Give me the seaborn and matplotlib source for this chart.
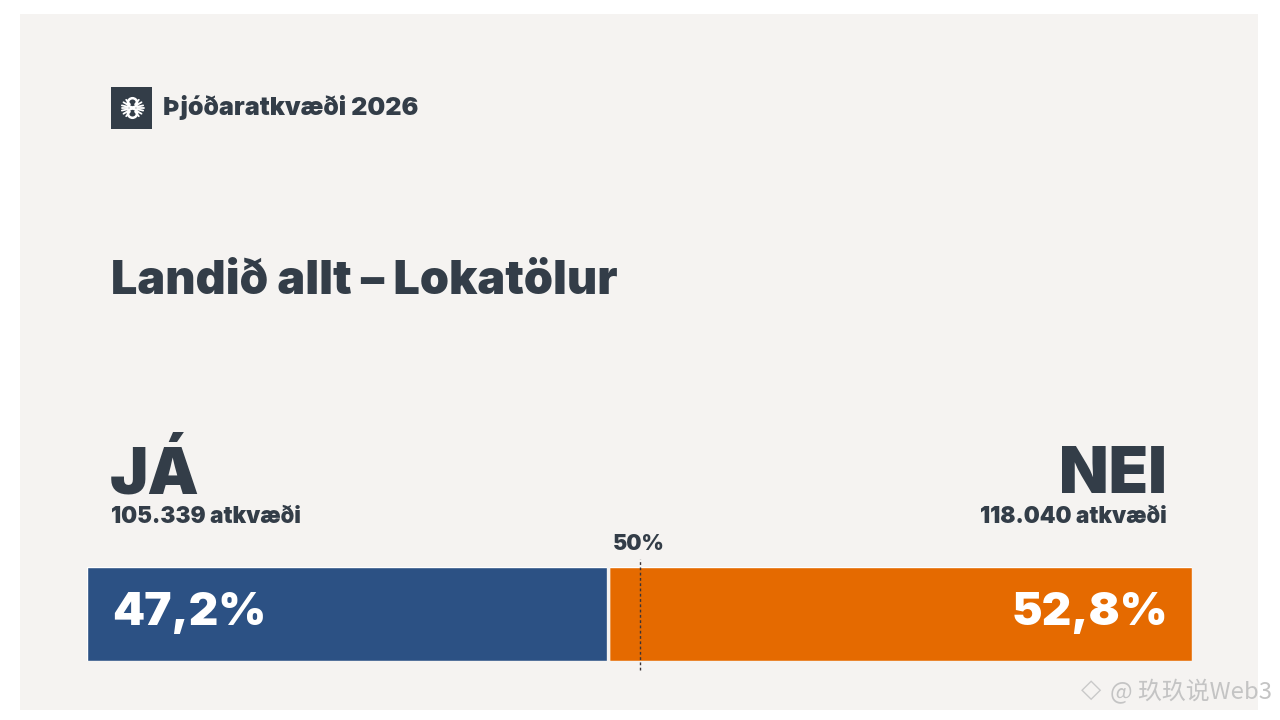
import numpy as np
import pandas as pd
import seaborn as sns
import matplotlib.pyplot as plt
from matplotlib.patches import Rectangle, Circle

# data
categories = ["JÁ", "NEI"]
votes = [105339, 118040]
shares = [47.2, 52.8]
threshold = 50
header = "Þjóðaratkvæði 2026"
title = "Landið allt – Lokatölur"
watermark = "@ 玖玖说Web3"

bg = "#f5f3f1"
ink = "#333d48"
colors = ["#2c5184", "#e56a00"]

sns.set_theme(style="white")
plt.rcParams['font.family'] = ['Inter', 'DejaVu Sans']

W, H = 1280, 720
fig = plt.figure(figsize=(12.8, 7.2), dpi=100, facecolor="white")


def px(x, y):
    # pixel coords (top-left origin) -> figure fraction
    return x / W, 1 - y / H


# light panel
fig.patches.append(Rectangle(px(20, 710), 1238 / W, 696 / H, transform=fig.transFigure,
                             facecolor=bg, edgecolor="none", zorder=-2))

# logo: dark square with a white figure-eight emblem and little wings
logo = fig.add_axes([111 / W, 1 - 129 / H, 41 / W, 42 / H])
logo.set_facecolor(ink)
logo.set_xlim(0, 41)
logo.set_ylim(42, 0)
logo.set_xticks([])
logo.set_yticks([])
for s in logo.spines.values():
    s.set_visible(False)
cx, cy = 21.5, 21
for dy in (-5.2, 5.2):
    logo.add_patch(Circle((cx, cy + dy), 4.6, facecolor="none", edgecolor="white", lw=1.8))
for side in (-1, 1):
    for ang in np.radians([-55, -35, -15, 0, 15, 35, 55]):
        x0, y0 = cx + side * 4.5 * np.cos(ang), cy + 4.5 * np.sin(ang)
        x1, y1 = cx + side * 11 * np.cos(ang), cy + 10 * np.sin(ang)
        logo.plot([x0, x1], [y0, y1], color="white", lw=1.3, solid_capstyle="round")

fig.text(*px(163, 115), header, color=ink, fontsize=18, fontweight="black", va="baseline")
fig.text(*px(111, 294), title, color=ink, fontsize=33.6, fontweight="black", va="baseline")

# stacked bar
left, top, right, bottom = 87, 567, 1192, 661
ax = fig.add_axes([left / W, 1 - bottom / H, (right - left) / W, (bottom - top) / H])
ax.set_zorder(2)
ax.set_facecolor("none")

df = pd.DataFrame({"svar": categories, "hlutfall": shares, "atkvaedi": votes})
df["uppsafnad"] = df["hlutfall"].cumsum()
df["kosning"] = "kosning"
for i in reversed(range(len(df))):
    sns.barplot(data=df.iloc[[i]], x="uppsafnad", y="kosning", color=colors[i],
                width=1, saturation=1, ax=ax, zorder=2)
ax.axvline(df["uppsafnad"].iloc[0] - 0.05, color=bg, lw=2.4, zorder=3)
ax.axvline(threshold, ymin=-0.1, ymax=1.08, clip_on=False, color="#3a3236", lw=1.0,
           ls=(0, (2.0, 1.8)), zorder=4)
ax.set_xlim(0, 100)
ax.set_ylim(0.5, -0.5)
ax.axis("off")

fig.text(*px(639, 550), f"{threshold}%", color=ink, fontsize=15.4, fontweight="black",
         ha="center", va="baseline")

# side labels
for i, row in df.iterrows():
    xpos = 110 if i == 0 else 1167
    ha = "left" if i == 0 else "right"
    pct = f"{row['hlutfall']:.1f}".replace(".", ",") + "%"
    cnt = f"{row['atkvaedi']:,}".replace(",", ".") + " atkvæði"
    fig.text(*px(xpos, 493), row["svar"], color=ink, fontsize=46.5, fontweight="black",
             ha=ha, va="baseline")
    fig.text(*px(xpos + (1 if i == 0 else 0), 523), cnt, color=ink, fontsize=16.2,
             fontweight="black", ha=ha, va="baseline")
    fig.text(*px(xpos + (2 if i == 0 else 1), 625), pct, color="white", fontsize=33,
             fontweight="black", ha=ha, va="baseline", zorder=5)

# watermark
fig.text(*px(1091, 690), "◇", color="#c9c9c9", fontsize=19, ha="center", va="center",
         family=["DejaVu Sans"])
fig.text(*px(1110, 699), watermark, color="#c4c4c4", fontsize=17.2, va="baseline",
         family=["Noto Sans CJK SC", "DejaVu Sans"])

fig.savefig("out.png", dpi=100, facecolor="white")
